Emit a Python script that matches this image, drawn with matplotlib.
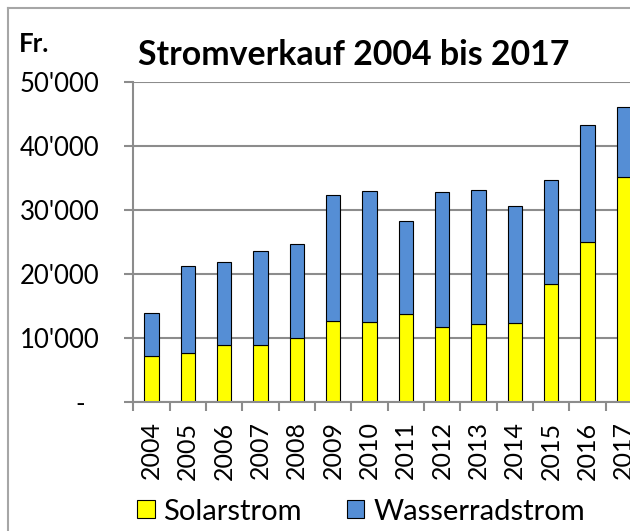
import matplotlib
matplotlib.use("Agg")
import matplotlib.pyplot as plt
from matplotlib.patches import Patch
from matplotlib.lines import Line2D

years = ["2004", "2005", "2006", "2007", "2008", "2009", "2010",
         "2011", "2012", "2013", "2014", "2015", "2016", "2017"]
solar = [7200, 7600, 8850, 8850, 9950, 12700, 12550,
         13700, 11650, 12150, 12300, 18450, 25000, 35100]
wasser = [6750, 13600, 12950, 14750, 14750, 19700, 20350,
          14600, 21150, 21050, 18400, 16300, 18250, 10950]
yticks = [0, 10000, 20000, 30000, 40000, 50000]
ytick_labels = ["-  ", "10'000", "20'000", "30'000", "40'000", "50'000"]
series_names = ["Solarstrom", "Wasserradstrom"]
title = "Stromverkauf 2004 bis 2017"
unit = "Fr."

plt.rcParams['font.family'] = ['Lato', 'DejaVu Sans']

W, H = 630, 531
fig = plt.figure(figsize=(W / 100, H / 100), dpi=100)
left_px, right_px, base_px, top_px = 133.3, 642.0, 402.0, 82.0
ax = fig.add_axes([left_px / W, 1 - base_px / H, (right_px - left_px) / W,
                   (base_px - top_px) / H])

yellow = "#FFFF00"
blue = "#558ED5"
grid_c = "#8C8C8C"
x = list(range(len(years)))
bw = 0.39
ax.bar(x, solar, width=bw, color=yellow, edgecolor="black", linewidth=0.8, zorder=3)
ax.bar(x, wasser, width=bw, bottom=solar, color=blue, edgecolor="black",
       linewidth=0.8, zorder=3)

ax.set_xlim(-0.5, len(years) - 0.5)
ax.set_ylim(0, 50000)

for s in ["top", "right"]:
    ax.spines[s].set_visible(False)
for s in ["left", "bottom"]:
    ax.spines[s].set_color(grid_c)
    ax.spines[s].set_linewidth(1.5)
    ax.spines[s].set_zorder(4)

ax.set_yticks(yticks)
ax.set_yticklabels(ytick_labels)
ax.yaxis.grid(True, color=grid_c, linewidth=1.5, zorder=0)
ax.set_axisbelow(True)
ax.tick_params(axis="y", direction="out", length=6.5, width=1.5, color=grid_c,
               labelsize=18.5, pad=18)

ax.set_xticks([i - 0.5 for i in range(len(years) + 1)])
ax.set_xticklabels([])
ax.tick_params(axis="x", which="major", direction="out", length=6.5, width=1.5,
               color=grid_c)
ax.set_xticks(x, minor=True)
ax.set_xticklabels(years, minor=True, rotation=90, fontsize=18)
ax.tick_params(axis="x", which="minor", length=0, pad=14)

fig.text(138.3 / W, 1 - 65 / H, title, fontsize=24.4, fontweight="bold",
         va="baseline", ha="left")
fig.text(19 / W, 1 - 51.7 / H, unit, fontsize=18.5, fontweight="bold",
         va="baseline", ha="left")

handles = [Patch(facecolor=yellow, edgecolor="black", linewidth=0.8),
           Patch(facecolor=blue, edgecolor="black", linewidth=0.8)]
fig.legend(handles, series_names, ncol=2, loc="center left",
           bbox_to_anchor=(137 / W, 1 - 511.5 / H), frameon=False, fontsize=21,
           handlelength=0.6, handleheight=0.6, handletextpad=0.3,
           columnspacing=1.55, borderpad=0, borderaxespad=0)

frame_c = "#A6A6A6"
fig.add_artist(Line2D([8 / W, 8 / W], [0, 1 - 8 / H], color=frame_c, lw=1.5))
fig.add_artist(Line2D([8 / W, 1], [1 - 8 / H, 1 - 8 / H], color=frame_c, lw=1.5))

fig.savefig("out.png", dpi=100)
